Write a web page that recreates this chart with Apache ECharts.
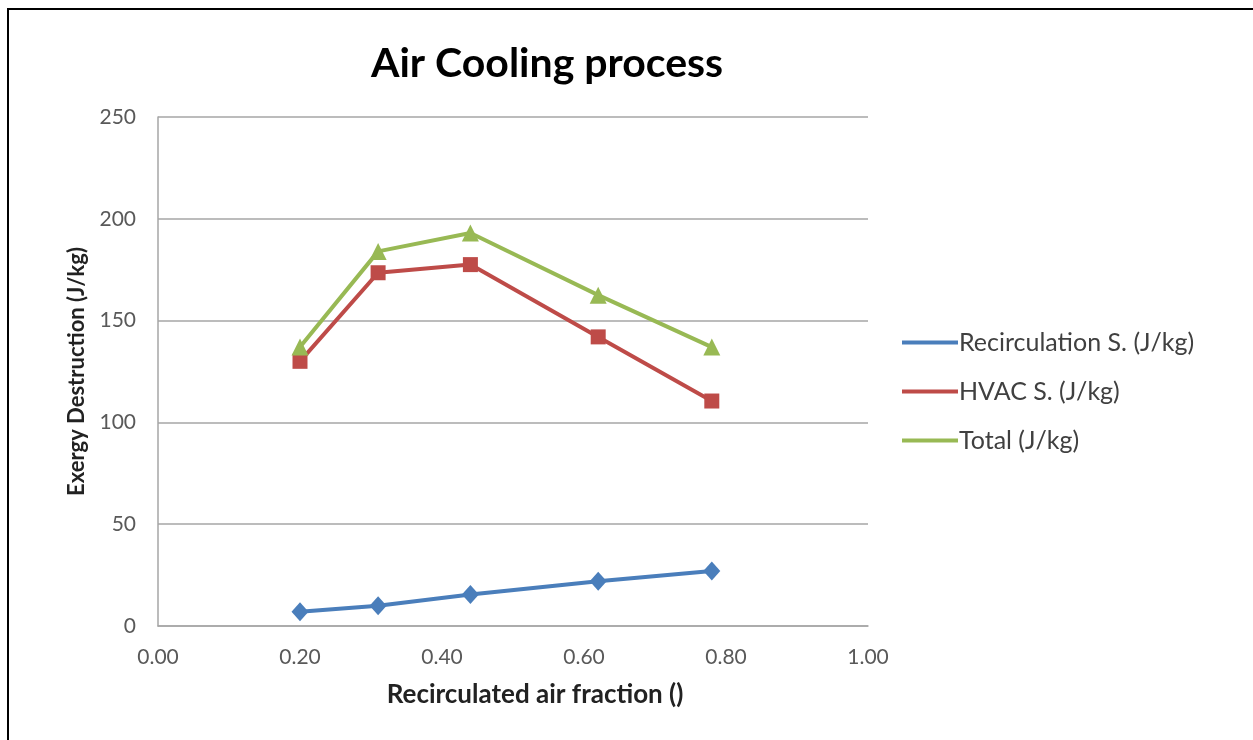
<!DOCTYPE html>
<html>
<head>
<meta charset="utf-8">
<script src="https://cdn.jsdelivr.net/npm/echarts@6/dist/echarts.min.js"></script>
<style>
  html, body { margin: 0; padding: 0; background: #fff; }
  #main { width: 1253px; height: 740px; }
</style>
</head>
<body>
<div id="main"></div>
<script>
// recirculated air fraction
var fractions = [0.20, 0.31, 0.44, 0.62, 0.78];
var recirculation = [7, 10, 15.5, 22, 27];
var hvac = [130, 173.5, 177.5, 142, 110.5];
var total = [137, 184, 193, 162.5, 137];
var seriesNames = ['Recirculation S. (J/kg)', 'HVAC S. (J/kg)', 'Total (J/kg)'];

function pairs(ys) {
    return fractions.map(function (x, i) { return [x, ys[i]]; });
}

var font = 'Lato';
var chart = echarts.init(document.getElementById('main'));
var option = {
    animation: false,
    textStyle: { fontFamily: font },
    title: {
        text: 'Air Cooling process',
        left: 366,
        top: 38,
        textStyle: { fontSize: 41, fontWeight: 'bold', color: '#000', fontFamily: font }
    },
    graphic: [{
        type: 'rect',
        shape: { x: 8, y: 9, width: 1400, height: 900 },
        style: { fill: 'none', stroke: '#000', lineWidth: 2 }
    }],
    grid: { left: 158, top: 117, width: 710, height: 509, containLabel: false },
    legend: {
        orient: 'vertical',
        left: 897,
        top: 325,
        itemWidth: 56,
        itemHeight: 4,
        itemGap: 24,
        icon: 'rect',
        textStyle: { fontSize: 25, color: '#404040', padding: [0, 0, 0, -4] },
        data: seriesNames
    },
    xAxis: {
        type: 'value',
        min: 0,
        max: 1,
        interval: 0.2,
        name: 'Recirculated air fraction ()',
        nameLocation: 'middle',
        nameGap: 56,
        nameTextStyle: { fontSize: 26, fontWeight: 'bold', color: '#222', padding: [0, 0, 0, 44] },
        axisLine: { lineStyle: { color: '#a6a6a6', width: 1.5 } },
        axisTick: { show: false },
        splitLine: { show: false },
        axisLabel: {
            fontSize: 21, color: '#595959', margin: 21,
            formatter: function (v) { return v.toFixed(2); }
        }
    },
    yAxis: {
        type: 'value',
        min: 0,
        max: 250,
        interval: 50,
        name: 'Exergy Destruction (J/kg)',
        nameLocation: 'middle',
        nameGap: 70,
        nameTextStyle: { fontSize: 22, fontWeight: 'bold', color: '#222' },
        axisLine: { show: true, lineStyle: { color: '#a6a6a6', width: 1.5 } },
        axisTick: { show: false },
        splitLine: { lineStyle: { color: '#a6a6a6', width: 1.5 } },
        axisLabel: { fontSize: 21, color: '#595959', margin: 22 }
    },
    series: [
        {
            name: seriesNames[0],
            type: 'line',
            data: pairs(recirculation),
            symbol: 'diamond',
            symbolSize: [17, 19],
            color: '#4a7ebb',
            lineStyle: { width: 4 }
        },
        {
            name: seriesNames[1],
            type: 'line',
            data: pairs(hvac),
            symbol: 'rect',
            symbolSize: 15,
            color: '#be4b48',
            lineStyle: { width: 4 }
        },
        {
            name: seriesNames[2],
            type: 'line',
            data: pairs(total),
            symbol: 'triangle',
            symbolSize: 17,
            color: '#98b954',
            lineStyle: { width: 4 }
        }
    ]
};
chart.setOption(option);
</script>
</body>
</html>
